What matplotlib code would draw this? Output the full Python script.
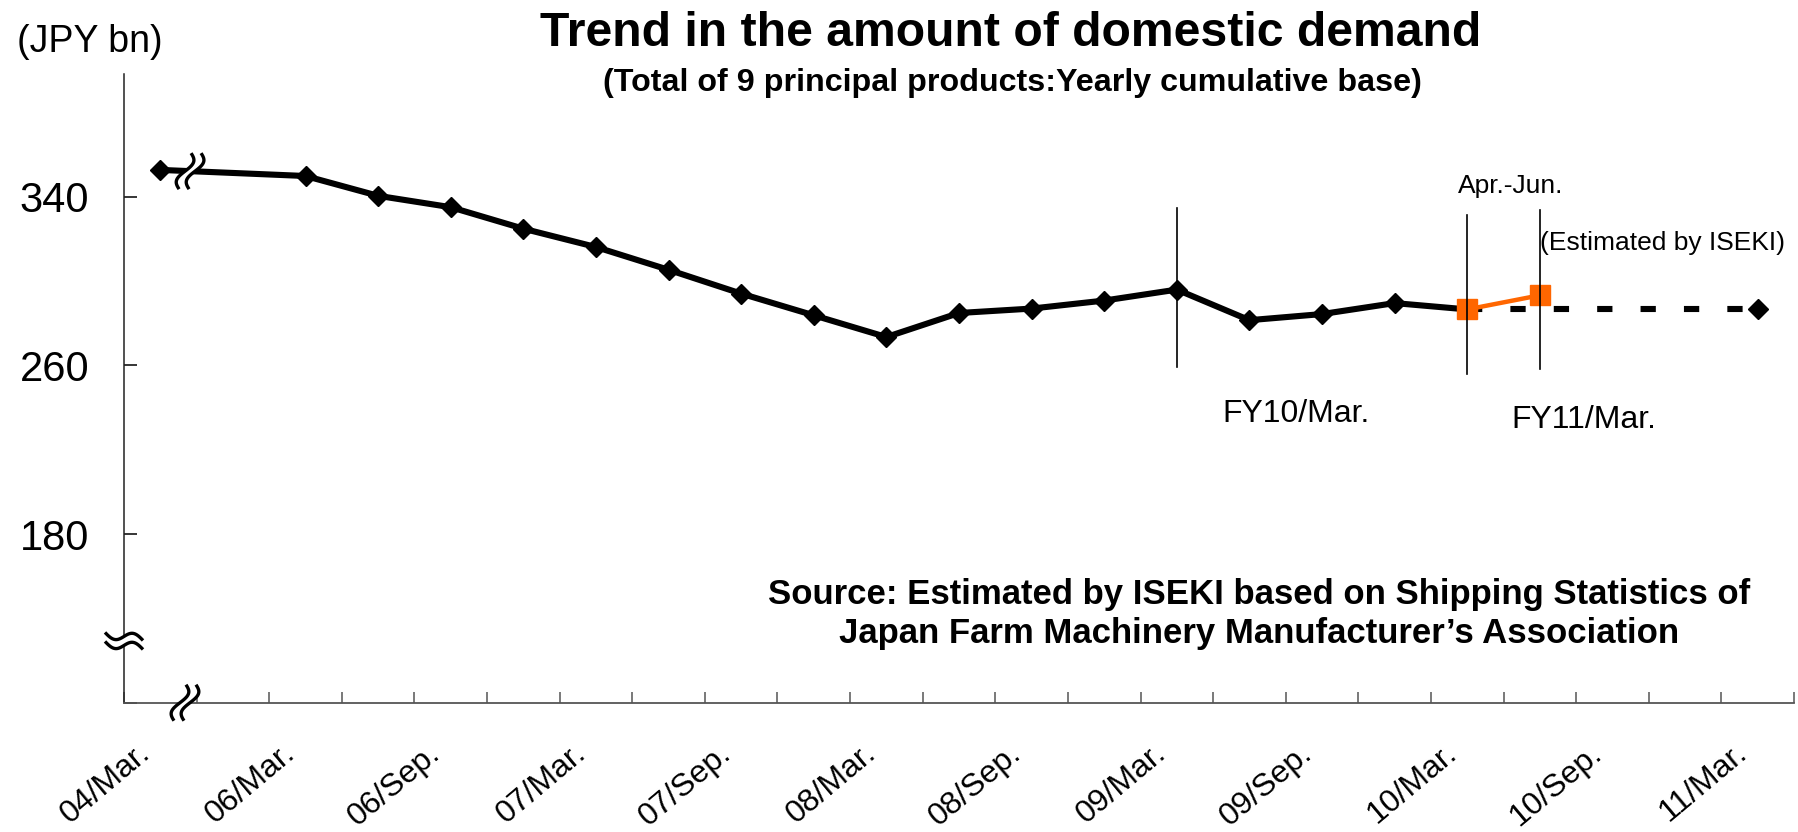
import numpy as np
import matplotlib
matplotlib.use('Agg')
import matplotlib.pyplot as plt
import matplotlib.transforms as mtransforms
from matplotlib.patches import Polygon

# quarterly categories (index 1 stands for the cut-out 2005 part)
label_idx = [0, 2, 4, 6, 8, 10, 12, 14, 16, 18, 20, 22]
label_txt = ['04/Mar.', '06/Mar.', '06/Sep.', '07/Mar.', '07/Sep.', '08/Mar.',
             '08/Sep.', '09/Mar.', '09/Sep.', '10/Mar.', '10/Sep.', '11/Mar.']
n_cat = 23

# actual yearly cumulative demand (JPY bn)
actual_idx = [0, 2, 3, 4, 5, 6, 7, 8, 9, 10, 11, 12, 13, 14, 15, 16, 17, 18]
actual_val = [352.8, 349.9, 340.5, 335.1, 324.9, 316.2, 305.4, 294.1, 283.8,
              273.5, 284.9, 287.0, 290.8, 296.0, 281.5, 284.4, 289.6, 286.6]

# latest quarters (Apr.-Jun.)
orange_idx = [18, 19]
orange_val = [286.6, 293.3]

# ISEKI estimate for FY11/Mar.
est_idx = [18, 22]
est_val = [286.6, 286.6]

yticks = [100, 180, 260, 340]
ytick_txt = ['', '180', '260', '340']

# period divider lines (x, bottom, top)
div_x = [14, 18, 19]
div_lo = [259.3, 256.0, 258.4]
div_hi = [334.7, 331.5, 333.8]

W, H = 1798, 832
FONT = 'Liberation Sans'
plt.rcParams['font.family'] = [FONT, 'DejaVu Sans']


def fpos(x, y):
    # pixel position -> figure fraction
    return x / W, 1 - y / H


def break_mark(ax, fig, x, y, horizontal=False):
    # two parallel wavy strokes with white between them, sized in pixels
    t = np.linspace(-1, 1, 60)
    if not horizontal:
        a = 5.5 * np.sin(np.pi * t) + 6.0 * t
        b = 18.0 * t
        c1 = np.column_stack([a - 5.0, b])
        c2 = np.column_stack([a + 5.0, b])
    else:
        a = 19.0 * t
        b = 5.0 * np.sin(np.pi * t) - 4.0 * t
        c1 = np.column_stack([a, b + 4.5])
        c2 = np.column_stack([a, b - 4.5])
    trans = mtransforms.Affine2D() + mtransforms.ScaledTranslation(x, y, ax.transData)
    poly = Polygon(np.vstack([c1, c2[::-1]]), closed=True, facecolor='white',
                   edgecolor='none', transform=trans, zorder=6, clip_on=False)
    ax.add_patch(poly)
    for c in (c1, c2):
        ax.plot(c[:, 0], c[:, 1], color='black', lw=2.4, transform=trans,
                zorder=7, clip_on=False, solid_capstyle='butt')


fig = plt.figure(figsize=(W / 100, H / 100), dpi=100)
ax = fig.add_axes([124 / W, 1 - 702.7 / H, (1794 - 124) / W, (702.7 - 74) / H])
ax.set_xlim(-0.5, n_cat - 0.5)
ax.set_ylim(100, 398.3)

for s in ['top', 'right']:
    ax.spines[s].set_visible(False)
ax.spines['left'].set_color('#222222')
ax.spines['left'].set_linewidth(1.1)
ax.spines['bottom'].set_color('#555555')
ax.spines['bottom'].set_linewidth(1.3)

# category boundaries carry the tick marks, labels sit on the centres
ax.set_xticks(np.arange(-0.5, n_cat, 1.0))
ax.set_xticklabels([])
ax.set_xticks(label_idx, minor=True)
ax.set_xticklabels(label_txt, minor=True, rotation=40, ha='right',
                   va='baseline', rotation_mode='anchor', fontsize=23)
ax.tick_params(axis='x', which='major', direction='in', length=7.7,
               width=1.1, color='#555555')
ax.tick_params(axis='x', which='minor', length=0, pad=38)
shift = mtransforms.ScaledTranslation(-9 / 100, 0, fig.dpi_scale_trans)
for lab in ax.get_xticklabels(minor=True):
    lab.set_transform(lab.get_transform() + shift)

ax.set_yticks(yticks)
ax.set_yticklabels(ytick_txt, fontsize=30)
ax.tick_params(axis='y', direction='in', length=9.6, width=1.1, pad=25)

ax.plot(actual_idx, actual_val, color='black', lw=4.4, marker='D',
        markersize=10, zorder=3, solid_joinstyle='miter')
ax.plot(est_idx, est_val, color='black', lw=4.4, ls=(0, (2.5, 4.6)),
        dash_capstyle='butt', zorder=3)
ax.plot(est_idx[-1:], est_val[-1:], color='black', marker='D',
        markersize=10, zorder=3)
ax.plot(orange_idx, orange_val, color='#FF6600', lw=3.2, marker='s',
        markersize=15, zorder=4)

for x, lo, hi in zip(div_x, div_lo, div_hi):
    ax.plot([x, x], [lo, hi], color='black', lw=1.2, zorder=5)

# axis and series breaks
break_mark(ax, fig, 0.41, np.interp(0.41, actual_idx[:2], actual_val[:2]))
break_mark(ax, fig, 0.34, 100)
break_mark(ax, fig, -0.5, 129.3, horizontal=True)

fig.text(*fpos(17, 42), '(JPY bn)', fontsize=27, ha='left', va='center')
fig.text(*fpos(1011, 34), 'Trend in the amount of domestic demand',
         fontsize=34.7, fontweight='bold', ha='center', va='center')
fig.text(*fpos(1012, 83), '(Total of 9 principal products:Yearly cumulative base)',
         fontsize=23.2, fontweight='bold', ha='center', va='center')
fig.text(*fpos(1511, 186), 'Apr.-Jun.', fontsize=19, ha='center', va='center')
fig.text(*fpos(1663, 243), '(Estimated by ISEKI)', fontsize=19,
         ha='center', va='center')
fig.text(*fpos(1296, 414), 'FY10/Mar.', fontsize=23, ha='center', va='center')
fig.text(*fpos(1584, 420), 'FY11/Mar.', fontsize=23, ha='center', va='center')
fig.text(*fpos(1259, 614),
         'Source: Estimated by ISEKI based on Shipping Statistics of\n'
         'Japan Farm Machinery Manufacturer\u2019s Association',
         fontsize=25, fontweight='bold', ha='center', va='center',
         linespacing=1.25)

fig.savefig('out.png', dpi=100, facecolor='white')
